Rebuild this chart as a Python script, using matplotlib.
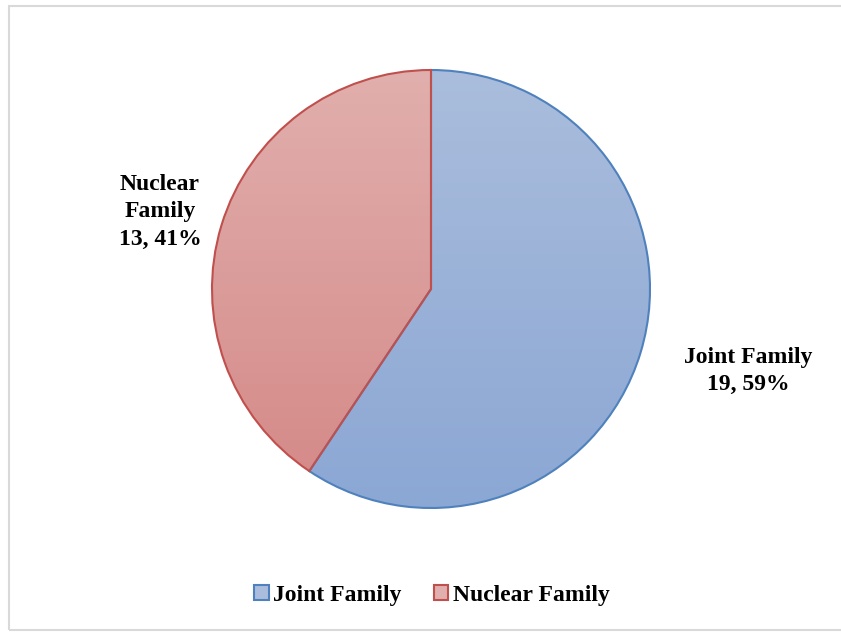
import numpy as np
import matplotlib
matplotlib.use("Agg")
import matplotlib.pyplot as plt
from matplotlib.colors import LinearSegmentedColormap
from matplotlib.patches import Rectangle, Patch

# dane
labels = ["Joint Family", "Nuclear Family"]
counts = [19, 13]
percents = [59, 41]
edge_colors = ["#4F81BD", "#C0504D"]
top_colors = ["#AABDDC", "#E1AFAD"]
bottom_colors = ["#8BA7D4", "#D48886"]

plt.rcParams["font.family"] = ["Liberation Serif", "DejaVu Serif"]

W, H = 841, 632
fig = plt.figure(figsize=(W / 100, H / 100), dpi=100)
ax = fig.add_axes([0, 0, 1, 1])

# pie w pikselach
cx, cy, r = 431, H - 289, 219
wedges, _ = ax.pie(counts, center=(cx, cy), radius=r, startangle=90,
                   counterclock=False, frame=True,
                   wedgeprops=dict(linewidth=1.5))

for w, ec, c1, c2 in zip(wedges, edge_colors, top_colors, bottom_colors):
    w.set_facecolor("none")
    w.set_edgecolor(ec)
    w.set_zorder(3)
    cmap = LinearSegmentedColormap.from_list("g", [c2, c1])
    grad = np.linspace(0, 1, 256).reshape(-1, 1)
    im = ax.imshow(grad, cmap=cmap, extent=(cx - r, cx + r, cy - r, cy + r),
                   origin="lower", aspect="auto", zorder=2)
    im.set_clip_path(w)

ax.set_xlim(0, W)
ax.set_ylim(0, H)
ax.set_aspect("auto")
ax.axis("off")

# ramka (prawa krawedz poza obrazem)
ax.add_patch(Rectangle((9.5, 2), W + 20, H - 7.5, fill=False,
                       edgecolor="#D9D9D9", linewidth=1.5, zorder=1,
                       clip_on=False))

# etykiety
ax.text(748, H - 371, f"{labels[0]}\n{counts[0]}, {percents[0]}%",
        ha="center", va="center", fontsize=17, fontweight="bold",
        linespacing=1.38)
ax.text(160, H - 212, "Nuclear\nFamily\n" + f"{counts[1]}, {percents[1]}%",
        ha="center", va="center", fontsize=17, fontweight="bold",
        linespacing=1.38)

# legenda
handles = [Patch(facecolor=c1, edgecolor=ec, linewidth=1.5)
           for c1, ec in zip(top_colors, edge_colors)]
leg = fig.legend(handles, labels, loc="center", bbox_to_anchor=(432 / W, 1 - 595 / H),
                 ncol=2, frameon=False, prop=dict(size=17, weight="bold"),
                 handlelength=0.6, handleheight=0.6, handletextpad=0.2,
                 columnspacing=1.35)

fig.savefig("out.png", dpi=100)
